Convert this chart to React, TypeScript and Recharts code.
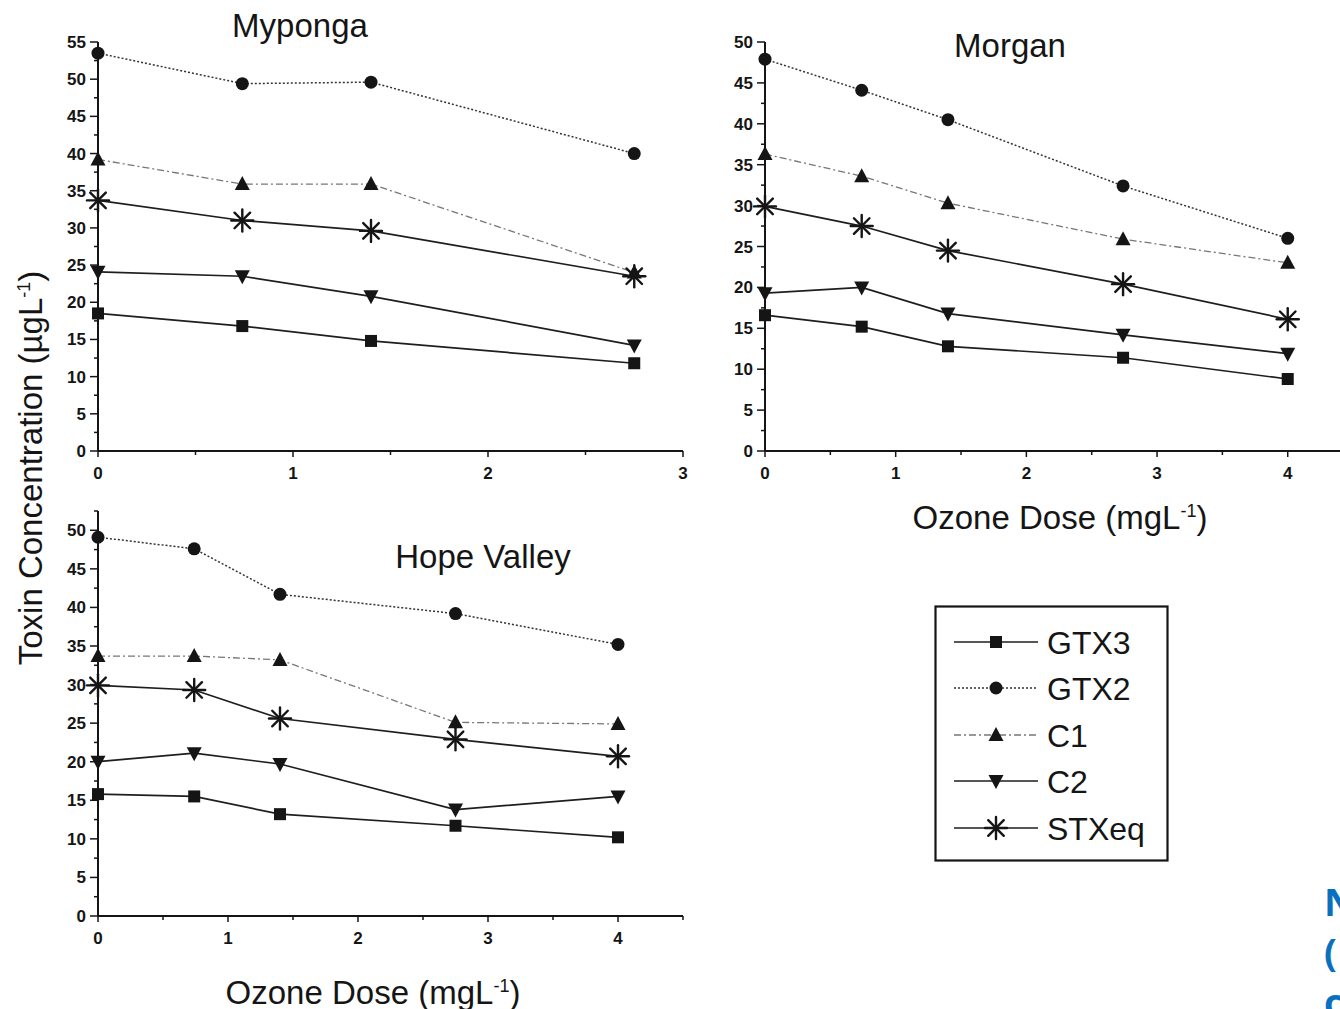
import { LineChart, Line, XAxis, YAxis } from 'recharts';

const FONT = '"Liberation Sans", Arial, Helvetica, sans-serif';
const TICK_FONT = '"Liberation Sans Narrow", "Liberation Sans", Arial, sans-serif';
const INK = '#151515';

const seriesNames = ['GTX3', 'GTX2', 'C1', 'C2', 'STXeq'];

// Myponga
const mypongaDose = [0, 0.74, 1.4, 2.75];
const mypongaGTX3 = [18.5, 16.8, 14.8, 11.8];
const mypongaGTX2 = [53.5, 49.4, 49.6, 40.0];
const mypongaC1 = [39.2, 35.9, 35.9, 24.0];
const mypongaC2 = [24.1, 23.5, 20.8, 14.2];
const mypongaSTXeq = [33.7, 31.0, 29.6, 23.5];

// Morgan
const morganDose = [0, 0.74, 1.4, 2.74, 4];
const morganGTX3 = [16.6, 15.2, 12.8, 11.4, 8.8];
const morganGTX2 = [47.9, 44.1, 40.5, 32.4, 26.0];
const morganC1 = [36.3, 33.6, 30.3, 25.9, 23.0];
const morganC2 = [19.3, 20.0, 16.8, 14.2, 11.9];
const morganSTXeq = [29.9, 27.5, 24.5, 20.4, 16.1];

// Hope Valley
const hopeDose = [0, 0.74, 1.4, 2.75, 4];
const hopeGTX3 = [15.8, 15.5, 13.2, 11.7, 10.2];
const hopeGTX2 = [49.1, 47.6, 41.7, 39.2, 35.2];
const hopeC1 = [33.7, 33.7, 33.2, 25.1, 24.9];
const hopeC2 = [20.0, 21.1, 19.7, 13.8, 15.5];
const hopeSTXeq = [29.9, 29.3, 25.6, 22.9, 20.7];

// ticks (majors get labels, the rest are minor marks)
const mypongaXTicks = [0, 0.5, 1, 1.5, 2, 2.5, 3];
const mypongaYTicks = [0, 2.5, 5, 7.5, 10, 12.5, 15, 17.5, 20, 22.5, 25, 27.5, 30, 32.5, 35, 37.5, 40, 42.5, 45, 47.5, 50, 52.5, 55];
const morganXTicks = [0, 0.5, 1, 1.5, 2, 2.5, 3, 3.5, 4];
const morganYTicks = [0, 2.5, 5, 7.5, 10, 12.5, 15, 17.5, 20, 22.5, 25, 27.5, 30, 32.5, 35, 37.5, 40, 42.5, 45, 47.5, 50];
const hopeXTicks = [0, 0.5, 1, 1.5, 2, 2.5, 3, 3.5, 4, 4.5];
const hopeYTicks = [0, 2.5, 5, 7.5, 10, 12.5, 15, 17.5, 20, 22.5, 25, 27.5, 30, 32.5, 35, 37.5, 40, 42.5, 45, 47.5, 50, 52.5];

type Kind = 'square' | 'circle' | 'up' | 'down' | 'star';

const lineStyle: Record<string, { stroke: string; dash?: string; width: number; marker: Kind }> = {
  GTX3: { stroke: '#1e1e1e', width: 1.7, marker: 'square' },
  GTX2: { stroke: '#333', dash: '2 2', width: 1.5, marker: 'circle' },
  C1: { stroke: '#777', dash: '7 3 2 3', width: 1.3, marker: 'up' },
  C2: { stroke: '#1e1e1e', width: 1.7, marker: 'down' },
  STXeq: { stroke: '#1e1e1e', width: 1.7, marker: 'star' },
};

function buildRows(dose: number[], g3: number[], g2: number[], c1: number[], c2: number[], stx: number[]) {
  return dose.map((d, i) => ({ dose: d, GTX3: g3[i], GTX2: g2[i], C1: c1[i], C2: c2[i], STXeq: stx[i] }));
}

const mypongaRows = buildRows(mypongaDose, mypongaGTX3, mypongaGTX2, mypongaC1, mypongaC2, mypongaSTXeq);
const morganRows = buildRows(morganDose, morganGTX3, morganGTX2, morganC1, morganC2, morganSTXeq);
const hopeRows = buildRows(hopeDose, hopeGTX3, hopeGTX2, hopeC1, hopeC2, hopeSTXeq);

function Marker({ kind, cx, cy }: { kind: Kind; cx: number; cy: number }) {
  if (cx == null || cy == null) return null;
  switch (kind) {
    case 'square':
      return <rect x={cx - 6} y={cy - 6} width={12} height={12} fill={INK} />;
    case 'circle':
      return <circle cx={cx} cy={cy} r={6.5} fill={INK} />;
    case 'up':
      return <path d={`M${cx},${cy - 8} L${cx + 7.5},${cy + 6} L${cx - 7.5},${cy + 6} Z`} fill={INK} />;
    case 'down':
      return <path d={`M${cx},${cy + 8} L${cx + 7.5},${cy - 6} L${cx - 7.5},${cy - 6} Z`} fill={INK} />;
    case 'star': {
      const r = 11;
      const d = r * 0.7071;
      return (
        <g stroke={INK} strokeWidth={2.4} strokeLinecap="round">
          <line x1={cx - r} y1={cy} x2={cx + r} y2={cy} />
          <line x1={cx} y1={cy - r} x2={cx} y2={cy + r} />
          <line x1={cx - d} y1={cy - d} x2={cx + d} y2={cy + d} />
          <line x1={cx - d} y1={cy + d} x2={cx + d} y2={cy - d} />
        </g>
      );
    }
  }
  return null;
}

const YTick = (props: any) => {
  const { x, y, payload } = props;
  const v = payload.value as number;
  const major = v % 5 === 0;
  return (
    <g>
      <line x1={x} x2={x - (major ? 8 : 4)} y1={y} y2={y} stroke={INK} strokeWidth={1.5} />
      {major && (
        <text x={x - 12} y={y} dy={6} textAnchor="end" fontFamily={TICK_FONT} fontSize={17} fontWeight="bold" fill={INK}>
          {v}
        </text>
      )}
    </g>
  );
};

const XTick = (props: any) => {
  const { x, y, payload } = props;
  const v = payload.value as number;
  const major = Number.isInteger(v);
  return (
    <g>
      <line x1={x} x2={x} y1={y} y2={y + (major ? 6 : 4)} stroke={INK} strokeWidth={1.5} />
      {major && (
        <text x={x} y={y + 28} textAnchor="middle" fontFamily={TICK_FONT} fontSize={17} fontWeight="bold" fill={INK}>
          {v}
        </text>
      )}
    </g>
  );
};

interface PanelProps {
  rows: any[];
  left: number;
  top: number;
  width: number;
  height: number;
  marginTop: number;
  marginRight: number;
  yWidth: number;
  xHeight: number;
  xDomain: [number, number];
  yDomain: [number, number];
  xTicks: number[];
  yTicks: number[];
}

function Panel(p: PanelProps) {
  return (
    <div style={{ position: 'absolute', left: p.left, top: p.top }}>
      <LineChart
        width={p.width}
        height={p.height}
        data={p.rows}
        margin={{ top: p.marginTop, right: p.marginRight, left: 0, bottom: 0 }}
      >
        <XAxis
          type="number"
          dataKey="dose"
          domain={p.xDomain}
          ticks={p.xTicks}
          interval={0}
          height={p.xHeight}
          tickSize={0}
          tickMargin={0}
          tickLine={false}
          axisLine={{ stroke: INK, strokeWidth: 2 }}
          tick={<XTick />}
        />
        <YAxis
          type="number"
          domain={p.yDomain}
          ticks={p.yTicks}
          interval={0}
          width={p.yWidth}
          tickSize={0}
          tickMargin={0}
          tickLine={false}
          axisLine={{ stroke: INK, strokeWidth: 2 }}
          tick={<YTick />}
        />
        {seriesNames.map((name) => {
          const s = lineStyle[name];
          return (
            <Line
              key={name}
              type="linear"
              dataKey={name}
              stroke={s.stroke}
              strokeWidth={s.width}
              strokeDasharray={s.dash}
              isAnimationActive={false}
              activeDot={false}
              dot={(dp: any) => <Marker key={`${name}-${dp.index}`} kind={s.marker} cx={dp.cx} cy={dp.cy} />}
            />
          );
        })}
      </LineChart>
    </div>
  );
}

function Legend() {
  const rowY = [37, 83, 130, 176, 223];
  return (
    <svg style={{ position: 'absolute', left: 934, top: 605 }} width={236} height={258}>
      <rect x={1.5} y={1.5} width={232} height={254} fill="#fff" stroke={INK} strokeWidth={2.2} />
      {seriesNames.map((name, i) => {
        const s = lineStyle[name];
        const y = rowY[i];
        return (
          <g key={name}>
            <line
              x1={20}
              x2={104}
              y1={y}
              y2={y}
              stroke={s.stroke}
              strokeWidth={s.width}
              strokeDasharray={s.dash}
            />
            <Marker kind={s.marker} cx={62} cy={y} />
            <text x={113} y={y + 12} fontFamily={FONT} fontSize={32} fill={INK}>
              {name}
            </text>
          </g>
        );
      })}
    </svg>
  );
}

const textStyle: React.CSSProperties = {
  position: 'absolute',
  fontFamily: FONT,
  color: INK,
  whiteSpace: 'nowrap',
  transform: 'translate(-50%, -50%)',
  lineHeight: 1,
};

const supStyle: React.CSSProperties = { fontSize: 18, lineHeight: 0 };

export default function App() {
  return (
    <div
      style={{
        position: 'absolute',
        left: 0,
        top: 0,
        width: 1340,
        height: 1009,
        overflow: 'hidden',
        background: '#fff',
      }}
    >
      <Panel
        rows={mypongaRows}
        left={0}
        top={0}
        width={700}
        height={490}
        marginTop={42}
        marginRight={17}
        yWidth={98}
        xHeight={39}
        xDomain={[0, 3]}
        yDomain={[0, 55]}
        xTicks={mypongaXTicks}
        yTicks={mypongaYTicks}
      />
      <Panel
        rows={morganRows}
        left={700}
        top={0}
        width={640}
        height={490}
        marginTop={42}
        marginRight={0}
        yWidth={65}
        xHeight={39}
        xDomain={[0, 4.4]}
        yDomain={[0, 50]}
        xTicks={morganXTicks}
        yTicks={morganYTicks}
      />
      <Panel
        rows={hopeRows}
        left={0}
        top={490}
        width={700}
        height={460}
        marginTop={21}
        marginRight={17}
        yWidth={98}
        xHeight={34}
        xDomain={[0, 4.5]}
        yDomain={[0, 52.5]}
        xTicks={hopeXTicks}
        yTicks={hopeYTicks}
      />

      <div style={{ ...textStyle, left: 300, top: 25, fontSize: 33 }}>Myponga</div>
      <div style={{ ...textStyle, left: 1010, top: 45, fontSize: 33 }}>Morgan</div>
      <div style={{ ...textStyle, left: 483, top: 556, fontSize: 33 }}>Hope Valley</div>

      <div style={{ ...textStyle, left: 1060, top: 517, fontSize: 33 }}>
        Ozone Dose (mgL<sup style={supStyle}>-1</sup>)
      </div>
      <div style={{ ...textStyle, left: 373, top: 992, fontSize: 33 }}>
        Ozone Dose (mgL<sup style={supStyle}>-1</sup>)
      </div>

      <div style={{ ...textStyle, left: 30, top: 468, fontSize: 33, transform: 'translate(-50%, -50%) rotate(-90deg)' }}>
        Toxin Concentration (µgL<sup style={supStyle}>-1</sup>)
      </div>

      <Legend />

      <div
        style={{
          position: 'absolute',
          left: 1324,
          top: 876,
          fontFamily: '"Open Sans", "Noto Sans", sans-serif',
          fontWeight: 'bold',
          fontSize: 38,
          lineHeight: '50px',
          color: '#0b6fc0',
        }}
      >
        <div>N</div>
        <div>(</div>
        <div>c</div>
      </div>
    </div>
  );
}
